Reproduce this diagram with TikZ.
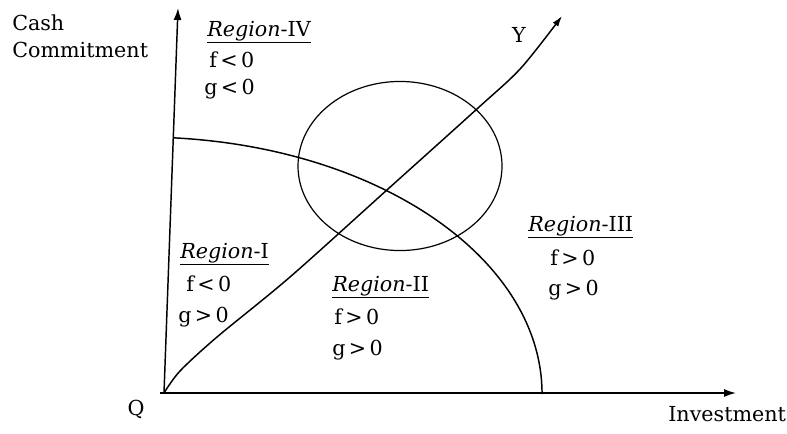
\documentclass[tikz,border=0pt]{standalone}
\usepackage{fontspec}
\setmainfont{DejaVu Serif}
\usetikzlibrary{arrows.meta}
\begin{document}
\begin{tikzpicture}[x=0.75pt,y=-0.75pt,
  every node/.style={font=\fontsize{15.5}{18}\selectfont, inner sep=0pt},
  lbl/.style={anchor=base west},
  axis/.style={line width=1.1pt,-{Latex[length=9pt,width=6pt]}},
  curve/.style={line width=1.1pt},
  ring/.style={line width=0.9pt}]
\useasboundingbox (0,0) rectangle (787,433);
% axes
\coordinate (Q) at (164,393);
\coordinate (ytop) at (178,8);
\coordinate (xstart) at (160,393);
\coordinate (xend) at (736,393);
\draw[axis] (Q) -- (ytop);
\draw[axis] (xstart) -- (xend);
% boundary curve (quarter ellipse)
\coordinate (arcstart) at (173,137.8);
\draw[curve] (arcstart) arc[start angle=85.56,end angle=0,x radius=300pt,y radius=192.75pt];
% circle
\draw[ring] (400,166) ellipse[x radius=76.5pt,y radius=63.4pt];
% path Y
\draw[curve,-{Latex[length=8pt,width=5pt]}] plot[smooth,tension=0.5] coordinates
  {(Q) (180,371) (217,337) (290,277) (388,189) (478,108) (521,68) (562,16)};
% labels
\node[lbl] (cash) at (12,30) {Cash};
\node[lbl] (comm) at (12,57) {Commitment};
\node (qlbl) at (136,409) {Q};
\node (ylbl) at (519,35) {Y};
\node[lbl] (inv) at (668,421) {Investment};
% Region IV
\node[lbl] (r4) at (207,36) {\underline{\textit{Region}-IV}};
\node[lbl] (r4f) at (209,67) {f\,<\,0};
\node[lbl] (r4g) at (204,94) {g\,<\,0};
% Region I
\node[lbl] (r1) at (180,258) {\underline{\textit{Region}-I}};
\node[lbl] (r1f) at (186,291) {f\,<\,0};
\node[lbl] (r1g) at (178,322) {g\,>\,0};
% Region II
\node[lbl] (r2) at (332,291) {\underline{\textit{Region}-II}};
\node[lbl] (r2f) at (334,324) {f\,>\,0};
\node[lbl] (r2g) at (332,355) {g\,>\,0};
% Region III
\node[lbl] (r3) at (528,231) {\underline{\textit{Region}-III}};
\node[lbl] (r3f) at (550,265) {f\,>\,0};
\node[lbl] (r3g) at (548,295) {g\,>\,0};
\end{tikzpicture}
\end{document}
